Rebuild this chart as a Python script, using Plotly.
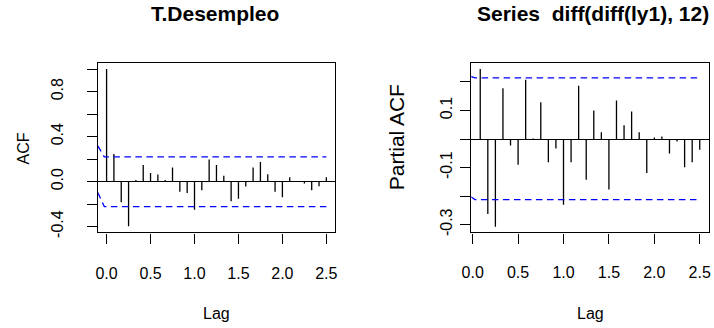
import plotly.graph_objects as go

# ---------------- data ----------------
acf_lags = [k / 12 for k in range(0, 31)]
acf_vals = [1.0, 0.245, -0.185, -0.397, 0.015, 0.147, 0.077, 0.063, 0.015, 0.124,
            -0.091, -0.102, -0.25, -0.078, 0.196, 0.147, 0.051, -0.175, -0.152, -0.043,
            0.124, 0.173, 0.066, -0.091, -0.139, 0.039, 0.002, -0.017, -0.078, -0.042, 0.039]

pacf_lags = [k / 12 for k in range(1, 31)]
pacf_vals = [0.245, -0.263, -0.307, 0.178, -0.023, -0.09, 0.207, 0.002, 0.129, -0.081,
             -0.033, -0.23, -0.081, 0.186, -0.143, 0.10, 0.024, -0.177, 0.135, 0.048,
             0.096, 0.024, -0.119, 0.005, 0.009, -0.051, -0.009, -0.099, -0.081, -0.038]

# confidence-band polylines (x, y) as drawn in the original
acf_ci_up_x = [-0.1, -0.026, 2.5]
acf_ci_up_y = [0.318, 0.219, 0.219]
acf_ci_lo_x = [-0.1, -0.026, 2.5]
acf_ci_lo_y = [-0.098, -0.222, -0.222]

pacf_ci_up_x = [-0.02, 0.025, 2.5]
pacf_ci_up_y = [0.219, 0.214, 0.214]
pacf_ci_lo_x = [-0.02, 0.025, 2.5]
pacf_ci_lo_y = [-0.202, -0.212, -0.212]

x_tickvals = [0, 0.5, 1.0, 1.5, 2.0, 2.5]
x_ticktext = ["0.0", "0.5", "1.0", "1.5", "2.0", "2.5"]
acf_ytickvals = [-0.4, -0.2, 0.0, 0.2, 0.4, 0.6, 0.8, 1.0]
acf_yticktext = ["-0.4", "", "0.0", "", "0.4", "", "0.8", ""]
pacf_ytickvals = [-0.3, -0.2, -0.1, 0.0, 0.1, 0.2]
pacf_yticktext = ["-0.3", "", "-0.1", "", "0.1", ""]

title_left = "T.Desempleo"
title_right = "Series  diff(diff(ly1), 12)"

W, H = 714, 328
FONT = "Liberation Sans, Arial, sans-serif"


def stems(xs, ys):
    sx, sy = [], []
    for x, y in zip(xs, ys):
        sx += [x, x, None]
        sy += [0, y, None]
    return sx, sy


fig = go.Figure()

ax, ay = stems(acf_lags, acf_vals)
fig.add_trace(go.Scatter(x=ax, y=ay, mode="lines", line=dict(color="black", width=1.3),
                         xaxis="x", yaxis="y", hoverinfo="skip"))
for xs, ys in [(acf_ci_up_x, acf_ci_up_y), (acf_ci_lo_x, acf_ci_lo_y)]:
    fig.add_trace(go.Scatter(x=xs, y=ys, mode="lines",
                             line=dict(color="#0000ff", width=1.3, dash="6.5px,4.5px"),
                             xaxis="x", yaxis="y", hoverinfo="skip"))

px_, py_ = stems(pacf_lags, pacf_vals)
fig.add_trace(go.Scatter(x=px_, y=py_, mode="lines", line=dict(color="black", width=1.3),
                         xaxis="x2", yaxis="y2", hoverinfo="skip"))
for xs, ys in [(pacf_ci_up_x, pacf_ci_up_y), (pacf_ci_lo_x, pacf_ci_lo_y)]:
    fig.add_trace(go.Scatter(x=xs, y=ys, mode="lines",
                             line=dict(color="#0000ff", width=1.3, dash="6.5px,4.5px"),
                             xaxis="x2", yaxis="y2", hoverinfo="skip"))


def px2x(p):
    return p / W


def px2y(p):
    return 1 - p / H


axis_common = dict(showline=True, mirror=True, linecolor="black", linewidth=1.3,
                   ticks="outside", ticklen=10, tickwidth=1.3, tickcolor="black",
                   showgrid=False, tickfont=dict(family=FONT, size=16, color="black"))

left_dom_x = [px2x(89.3), px2x(330.7)]
right_dom_x = [px2x(469.2), px2x(710.5)]
dom_y = [px2y(236), px2y(64)]

fig.update_layout(
    width=W, height=H, autosize=False,
    margin=dict(l=0, r=0, t=0, b=0),
    paper_bgcolor="white", plot_bgcolor="white",
    showlegend=False,
    xaxis=dict(domain=left_dom_x, range=[-0.1, 2.6], tickvals=x_tickvals, ticktext=x_ticktext,
               zeroline=False, anchor="y", ticklabelstandoff=16, **axis_common),
    yaxis=dict(domain=dom_y, range=[-0.452, 1.054], tickvals=acf_ytickvals, ticktext=acf_yticktext,
               zeroline=True, zerolinecolor="black", zerolinewidth=1.3, tickangle=-90,
               anchor="x", ticklabelstandoff=17, **axis_common),
    xaxis2=dict(domain=right_dom_x, range=[-0.015, 2.597], tickvals=x_tickvals, ticktext=x_ticktext,
                zeroline=False, anchor="y2", ticklabelstandoff=15, **axis_common),
    yaxis2=dict(domain=dom_y, range=[-0.327, 0.266], tickvals=pacf_ytickvals, ticktext=pacf_yticktext,
                zeroline=True, zerolinecolor="black", zerolinewidth=1.3, tickangle=-90,
                anchor="x2", ticklabelstandoff=2, **axis_common),
)

ann_font = dict(family=FONT, size=16, color="black")
big_font = dict(family=FONT, size=21, color="black")
title_font = dict(family=FONT, size=21, color="black")
annotations = [
    dict(text="<b>" + title_left + "</b>", x=px2x(209), y=px2y(14), font=title_font),
    dict(text="<b>" + title_right + "</b>", x=px2x(593), y=px2y(14), font=title_font),
    dict(text="Lag", x=px2x(210), y=px2y(318), font=ann_font),
    dict(text="Lag", x=px2x(590), y=px2y(318), font=ann_font),
    dict(text="ACF", x=px2x(14), y=px2y(151), font=ann_font, textangle=-90),
    dict(text="Partial ACF", x=px2x(394), y=px2y(139), font=big_font, textangle=-90),
]
for a in annotations:
    a.update(xref="paper", yref="paper", showarrow=False, xanchor="center", yanchor="middle")
fig.update_layout(annotations=annotations)

fig.write_html("out.html")
